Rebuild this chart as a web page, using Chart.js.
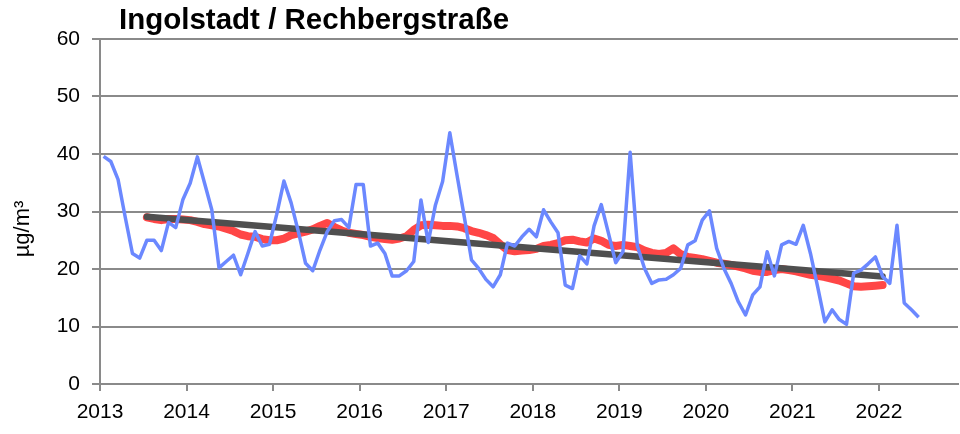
<!DOCTYPE html>
<html><head><meta charset="utf-8">
<script src="https://cdn.jsdelivr.net/npm/chart.js@4.4.0/dist/chart.umd.min.js"></script>
<style>html,body{margin:0;padding:0;background:#fff}#wrap{width:960px;height:434px;position:relative}</style>
</head><body><div id="wrap"><canvas id="c" width="960" height="434"></canvas></div>
<script>
const chartTitle = "Ingolstadt / Rechbergstraße";
const yAxisTitle = "µg/m³";
const startYear = 2013;
const yearTicks = [2013, 2014, 2015, 2016, 2017, 2018, 2019, 2020, 2021, 2022];
const yTicks = [0, 10, 20, 30, 40, 50, 60];

// Monthly means, Jan 2013 .. Jun 2022
const monthlyValues = [
  39.6, 38.7, 35.6, 29.0, 22.7, 21.9, 25.0, 25.0, 23.2, 28.1, 27.2, 32.1,
  34.9, 39.5, 34.9, 30.3, 20.2, 21.3, 22.4, 19.0, 22.7, 26.5, 24.0, 24.3,
  29.5, 35.3, 31.5, 26.5, 21.0, 19.7, 23.3, 26.5, 28.4, 28.6, 27.2, 34.7,
  34.7, 24.0, 24.5, 22.7, 18.8, 18.8, 19.7, 21.3, 32.0, 24.6, 31.1, 35.2,
  43.7, 36.3, 29.1, 21.6, 20.1, 18.2, 16.9, 19.0, 24.5, 24.0, 25.6, 26.9,
  25.6, 30.3, 28.2, 26.3, 17.2, 16.6, 22.3, 20.9, 27.5, 31.2, 26.2, 21.1,
  23.0, 40.3, 24.0, 20.1, 17.5, 18.1, 18.2, 19.0, 20.1, 24.2, 24.9, 28.5,
  30.1, 23.6, 20.1, 17.5, 14.3, 12.0, 15.5, 16.9, 23.0, 18.8, 24.2, 24.8,
  24.3, 27.6, 22.7, 16.9, 10.8, 12.9, 11.2, 10.4, 19.3, 19.8, 20.9, 22.1,
  18.7, 17.5, 27.6, 14.1, 12.9, 11.6
];

// 12-month running mean, starting at month index 6 (Jul 2013)
const runningMeanStart = 6;
const runningMeanValues = [
  29.0, 28.7, 28.5, 28.7, 28.7, 28.6, 28.5, 28.2, 27.8, 27.6, 27.4, 27.0,
  26.6, 26.0, 25.7, 25.6, 25.2, 25.0, 25.0, 25.3, 25.9, 26.2, 26.5, 26.9,
  27.5, 28.0, 27.3, 26.7, 26.3, 26.1, 25.9, 25.6, 25.4, 25.2, 25.1, 25.3,
  25.7, 26.8, 27.6, 27.7, 27.6, 27.5, 27.5, 27.4, 27.1, 26.6, 26.3, 25.9,
  25.4, 24.3, 23.3, 23.1, 23.2, 23.3, 23.5, 24.0, 24.2, 24.5, 25.0, 25.1,
  24.8, 24.6, 25.3, 24.9, 24.2, 24.0, 24.2, 24.0, 23.8, 23.2, 22.8, 22.6,
  22.8, 23.6, 22.6, 22.1, 21.9, 21.7, 21.4, 21.1, 20.9, 20.7, 20.4, 20.1,
  19.7, 19.5, 19.5, 19.8, 20.0, 19.8, 19.6, 19.3, 19.0, 18.8, 18.6, 18.3,
  18.0, 17.5, 17.0, 16.9, 17.0, 17.1, 17.2
];

// linear trend line endpoints (month index, value)
const trendMonths = [6, 108];
const trendValues = [29.1, 18.7];

const monthToX = i => startYear + (i + 0.5) / 12;
const bluePts = monthlyValues.map((v, i) => ({x: monthToX(i), y: v}));
const redPts = runningMeanValues.map((v, i) => ({x: monthToX(i + runningMeanStart), y: v}));
const trendPts = trendMonths.map((m, k) => ({x: monthToX(m), y: trendValues[k]}));

const FONT = "'Liberation Sans', Arial, sans-serif";

const textPlugin = {
  id: 'texts',
  afterDraw(chart) {
    const ctx = chart.ctx;
    ctx.save();
    ctx.fillStyle = '#000';
    ctx.font = "bold 29.5px " + FONT;
    ctx.textBaseline = 'middle';
    ctx.textAlign = 'left';
    ctx.fillText(chartTitle, 119, 21);
    ctx.translate(23, 229);
    ctx.rotate(-Math.PI / 2);
    ctx.textAlign = 'center';
    ctx.font = "22px " + FONT;
    ctx.fillText(yAxisTitle, 0, 0);
    ctx.restore();
  }
};

new Chart(document.getElementById('c'), {
  type: 'line',
  data: {
    datasets: [
      {data: bluePts, borderColor: '#6b88ff', borderWidth: 3.5, pointRadius: 0, tension: 0, borderJoinStyle: 'round'},
      {data: trendPts, borderColor: '#4f4f4f', borderWidth: 6.5, pointRadius: 0, tension: 0, borderCapStyle: 'round'},
      {data: redPts, borderColor: 'rgba(255,50,50,0.9)', borderWidth: 8, pointRadius: 0, tension: 0, borderCapStyle: 'round', borderJoinStyle: 'round'}
    ]
  },
  options: {
    responsive: false,
    devicePixelRatio: 1,
    animation: false,
    layout: {padding: {top: 39, right: 2, left: 0, bottom: 0}},
    plugins: {legend: {display: false}, tooltip: {enabled: false}, title: {display: false}},
    scales: {
      x: {
        type: 'linear', min: 2013, max: 2022.913,
        afterFit(s) { s.height = 50; },
        afterBuildTicks(s) { s.ticks = yearTicks.map(v => ({value: v})); },
        ticks: {includeBounds: false, autoSkip: false, maxRotation: 0, padding: 9, color: '#000',
          font: {family: FONT, size: 21}, callback: v => String(v)},
        grid: {drawOnChartArea: false, drawTicks: true, tickLength: 7, color: '#8a8a8a', lineWidth: 2},
        border: {display: true, color: '#8a8a8a', width: 2}
      },
      y: {
        min: 0, max: 60,
        afterFit(s) { s.width = 100; },
        afterBuildTicks(s) { s.ticks = yTicks.map(v => ({value: v})); },
        ticks: {padding: 12, color: '#000', font: {family: FONT, size: 21}},
        grid: {color: '#8a8a8a', lineWidth: 2, tickLength: 8},
        border: {display: true, color: '#8a8a8a', width: 2}
      }
    }
  },
  plugins: [textPlugin]
});
</script>
</body></html>
